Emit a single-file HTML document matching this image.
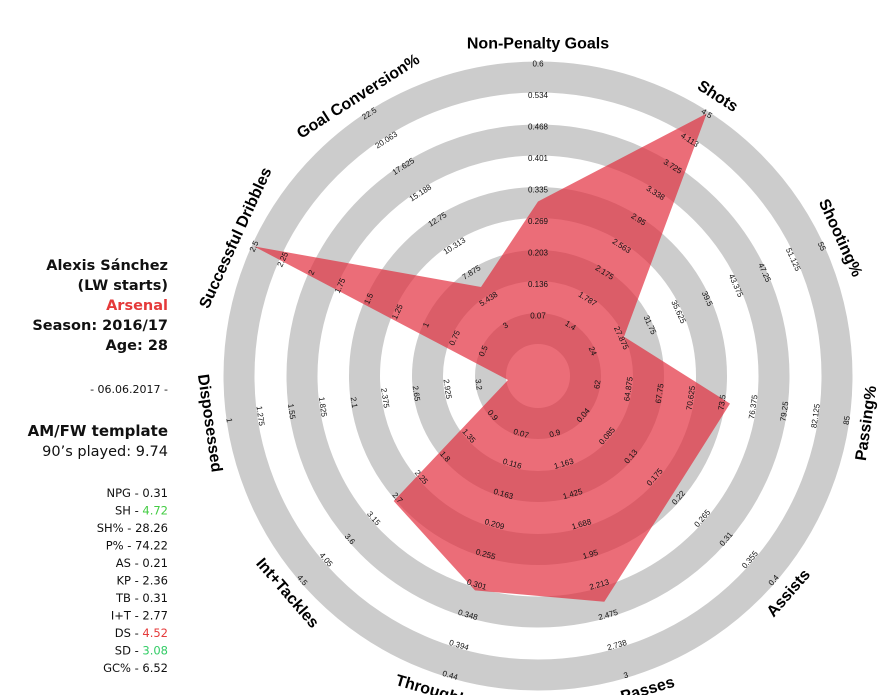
<!DOCTYPE html>
<html><head><meta charset="utf-8"><style>
html,body{margin:0;padding:0;background:#fff;}
svg{display:block;}
.t{font-family:"Liberation Sans",Arial,sans-serif;font-size:8px;fill:#111;text-anchor:middle;dominant-baseline:central;}
.h{font-family:"Liberation Sans",Arial,sans-serif;font-size:16px;font-weight:bold;fill:#000;text-anchor:middle;dominant-baseline:central;}
.l{font-family:"DejaVu Sans",Verdana,sans-serif;text-anchor:end;fill:#111;}
</style></head><body>
<svg width="895" height="695" viewBox="0 0 895 695" xmlns="http://www.w3.org/2000/svg">
<rect width="895" height="695" fill="#fff"/>
<g fill="none" stroke="#cccccc" stroke-width="31">
<circle cx="538" cy="376" r="299"/>
<circle cx="538" cy="376" r="236"/>
<circle cx="538" cy="376" r="173.5"/>
<circle cx="538" cy="376" r="110.5"/>
<circle cx="538" cy="376" r="47.5"/>
</g>
<polygon points="538,201.5 706.7,113.5 624,336.7 730,403.6 673.3,493.2 604.3,601.7 475,590.4 393.7,501 508,380 254,246.4 481,287" fill="rgb(226,40,56)" fill-opacity="0.68"/>

<g transform="rotate(0,538,376)">
<text class="h" x="538" y="44">Non-Penalty Goals</text>
<text class="t" x="538" y="316">0.07</text><text class="t" x="538" y="284.5">0.136</text><text class="t" x="538" y="253">0.203</text><text class="t" x="538" y="221.5">0.269</text><text class="t" x="538" y="190">0.335</text><text class="t" x="538" y="158.5">0.401</text><text class="t" x="538" y="127">0.468</text><text class="t" x="538" y="95.5">0.534</text><text class="t" x="538" y="64">0.6</text>
</g>
<g transform="rotate(32.727,538,376)">
<text class="h" x="538" y="44">Shots</text>
<text class="t" x="538" y="316">1.4</text><text class="t" x="538" y="284.5">1.787</text><text class="t" x="538" y="253">2.175</text><text class="t" x="538" y="221.5">2.563</text><text class="t" x="538" y="190">2.95</text><text class="t" x="538" y="158.5">3.338</text><text class="t" x="538" y="127">3.725</text><text class="t" x="538" y="95.5">4.113</text><text class="t" x="538" y="64">4.5</text>
</g>
<g transform="rotate(65.455,538,376)">
<text class="h" x="538" y="44">Shooting%</text>
<text class="t" x="538" y="316">24</text><text class="t" x="538" y="284.5">27.875</text><text class="t" x="538" y="253">31.75</text><text class="t" x="538" y="221.5">35.625</text><text class="t" x="538" y="190">39.5</text><text class="t" x="538" y="158.5">43.375</text><text class="t" x="538" y="127">47.25</text><text class="t" x="538" y="95.5">51.125</text><text class="t" x="538" y="64">55</text>
</g>
<g transform="rotate(-81.818,538,376)">
<text class="h" x="538" y="708">Passing%</text>
<text class="t" x="538" y="436">62</text><text class="t" x="538" y="467.5">64.875</text><text class="t" x="538" y="499">67.75</text><text class="t" x="538" y="530.5">70.625</text><text class="t" x="538" y="562">73.5</text><text class="t" x="538" y="593.5">76.375</text><text class="t" x="538" y="625">79.25</text><text class="t" x="538" y="656.5">82.125</text><text class="t" x="538" y="688">85</text>
</g>
<g transform="rotate(-49.091,538,376)">
<text class="h" x="538" y="708">Assists</text>
<text class="t" x="538" y="436">0.04</text><text class="t" x="538" y="467.5">0.085</text><text class="t" x="538" y="499">0.13</text><text class="t" x="538" y="530.5">0.175</text><text class="t" x="538" y="562">0.22</text><text class="t" x="538" y="593.5">0.265</text><text class="t" x="538" y="625">0.31</text><text class="t" x="538" y="656.5">0.355</text><text class="t" x="538" y="688">0.4</text>
</g>
<g transform="rotate(-16.364,538,376)">
<text class="h" x="538" y="708">Key Passes</text>
<text class="t" x="538" y="436">0.9</text><text class="t" x="538" y="467.5">1.163</text><text class="t" x="538" y="499">1.425</text><text class="t" x="538" y="530.5">1.688</text><text class="t" x="538" y="562">1.95</text><text class="t" x="538" y="593.5">2.213</text><text class="t" x="538" y="625">2.475</text><text class="t" x="538" y="656.5">2.738</text><text class="t" x="538" y="688">3</text>
</g>
<g transform="rotate(16.364,538,376)">
<text class="h" x="538" y="708">Throughballs</text>
<text class="t" x="538" y="436">0.07</text><text class="t" x="538" y="467.5">0.116</text><text class="t" x="538" y="499">0.163</text><text class="t" x="538" y="530.5">0.209</text><text class="t" x="538" y="562">0.255</text><text class="t" x="538" y="593.5">0.301</text><text class="t" x="538" y="625">0.348</text><text class="t" x="538" y="656.5">0.394</text><text class="t" x="538" y="688">0.44</text>
</g>
<g transform="rotate(49.091,538,376)">
<text class="h" x="538" y="708">Int+Tackles</text>
<text class="t" x="538" y="436">0.9</text><text class="t" x="538" y="467.5">1.35</text><text class="t" x="538" y="499">1.8</text><text class="t" x="538" y="530.5">2.25</text><text class="t" x="538" y="562">2.7</text><text class="t" x="538" y="593.5">3.15</text><text class="t" x="538" y="625">3.6</text><text class="t" x="538" y="656.5">4.05</text><text class="t" x="538" y="688">4.5</text>
</g>
<g transform="rotate(81.818,538,376)">
<text class="h" x="538" y="708">Disposessed</text>
<text class="t" x="538" y="436">3.2</text><text class="t" x="538" y="467.5">2.925</text><text class="t" x="538" y="499">2.65</text><text class="t" x="538" y="530.5">2.375</text><text class="t" x="538" y="562">2.1</text><text class="t" x="538" y="593.5">1.825</text><text class="t" x="538" y="625">1.55</text><text class="t" x="538" y="656.5">1.275</text><text class="t" x="538" y="688">1</text>
</g>
<g transform="rotate(294.545,538,376)">
<text class="h" x="538" y="44">Successful Dribbles</text>
<text class="t" x="538" y="316">0.5</text><text class="t" x="538" y="284.5">0.75</text><text class="t" x="538" y="253">1</text><text class="t" x="538" y="221.5">1.25</text><text class="t" x="538" y="190">1.5</text><text class="t" x="538" y="158.5">1.75</text><text class="t" x="538" y="127">2</text><text class="t" x="538" y="95.5">2.25</text><text class="t" x="538" y="64">2.5</text>
</g>
<g transform="rotate(327.273,538,376)">
<text class="h" x="538" y="44">Goal Conversion%</text>
<text class="t" x="538" y="316">3</text><text class="t" x="538" y="284.5">5.438</text><text class="t" x="538" y="253">7.875</text><text class="t" x="538" y="221.5">10.313</text><text class="t" x="538" y="190">12.75</text><text class="t" x="538" y="158.5">15.188</text><text class="t" x="538" y="127">17.625</text><text class="t" x="538" y="95.5">20.063</text><text class="t" x="538" y="64">22.5</text>
</g>

<g class="l" font-size="14.5" font-weight="bold">
<text x="168" y="270">Alexis Sánchez</text>
<text x="168" y="290">(LW starts)</text>
<text x="168" y="310" fill="#e53a3a">Arsenal</text>
<text x="168" y="330">Season: 2016/17</text>
<text x="168" y="350">Age: 28</text>
</g>
<text class="l" x="168" y="393" font-size="11" fill="#555">- 06.06.2017 -</text>
<text class="l" x="168" y="436" font-size="15" font-weight="bold">AM/FW template</text>
<text class="l" x="168" y="456" font-size="14.5">90’s played: 9.74</text>
<g class="l" font-size="11.5">
<text x="168" y="497">NPG - 0.31</text>
<text x="168" y="514.5">SH - <tspan fill="#44cc44">4.72</tspan></text>
<text x="168" y="532">SH% - 28.26</text>
<text x="168" y="549.5">P% - 74.22</text>
<text x="168" y="567">AS - 0.21</text>
<text x="168" y="584.5">KP - 2.36</text>
<text x="168" y="602">TB - 0.31</text>
<text x="168" y="619.5">I+T - 2.77</text>
<text x="168" y="637">DS - <tspan fill="#e53a3a">4.52</tspan></text>
<text x="168" y="654.5">SD - <tspan fill="#33cc66">3.08</tspan></text>
<text x="168" y="672">GC% - 6.52</text>
</g>
</svg>
</body></html>
